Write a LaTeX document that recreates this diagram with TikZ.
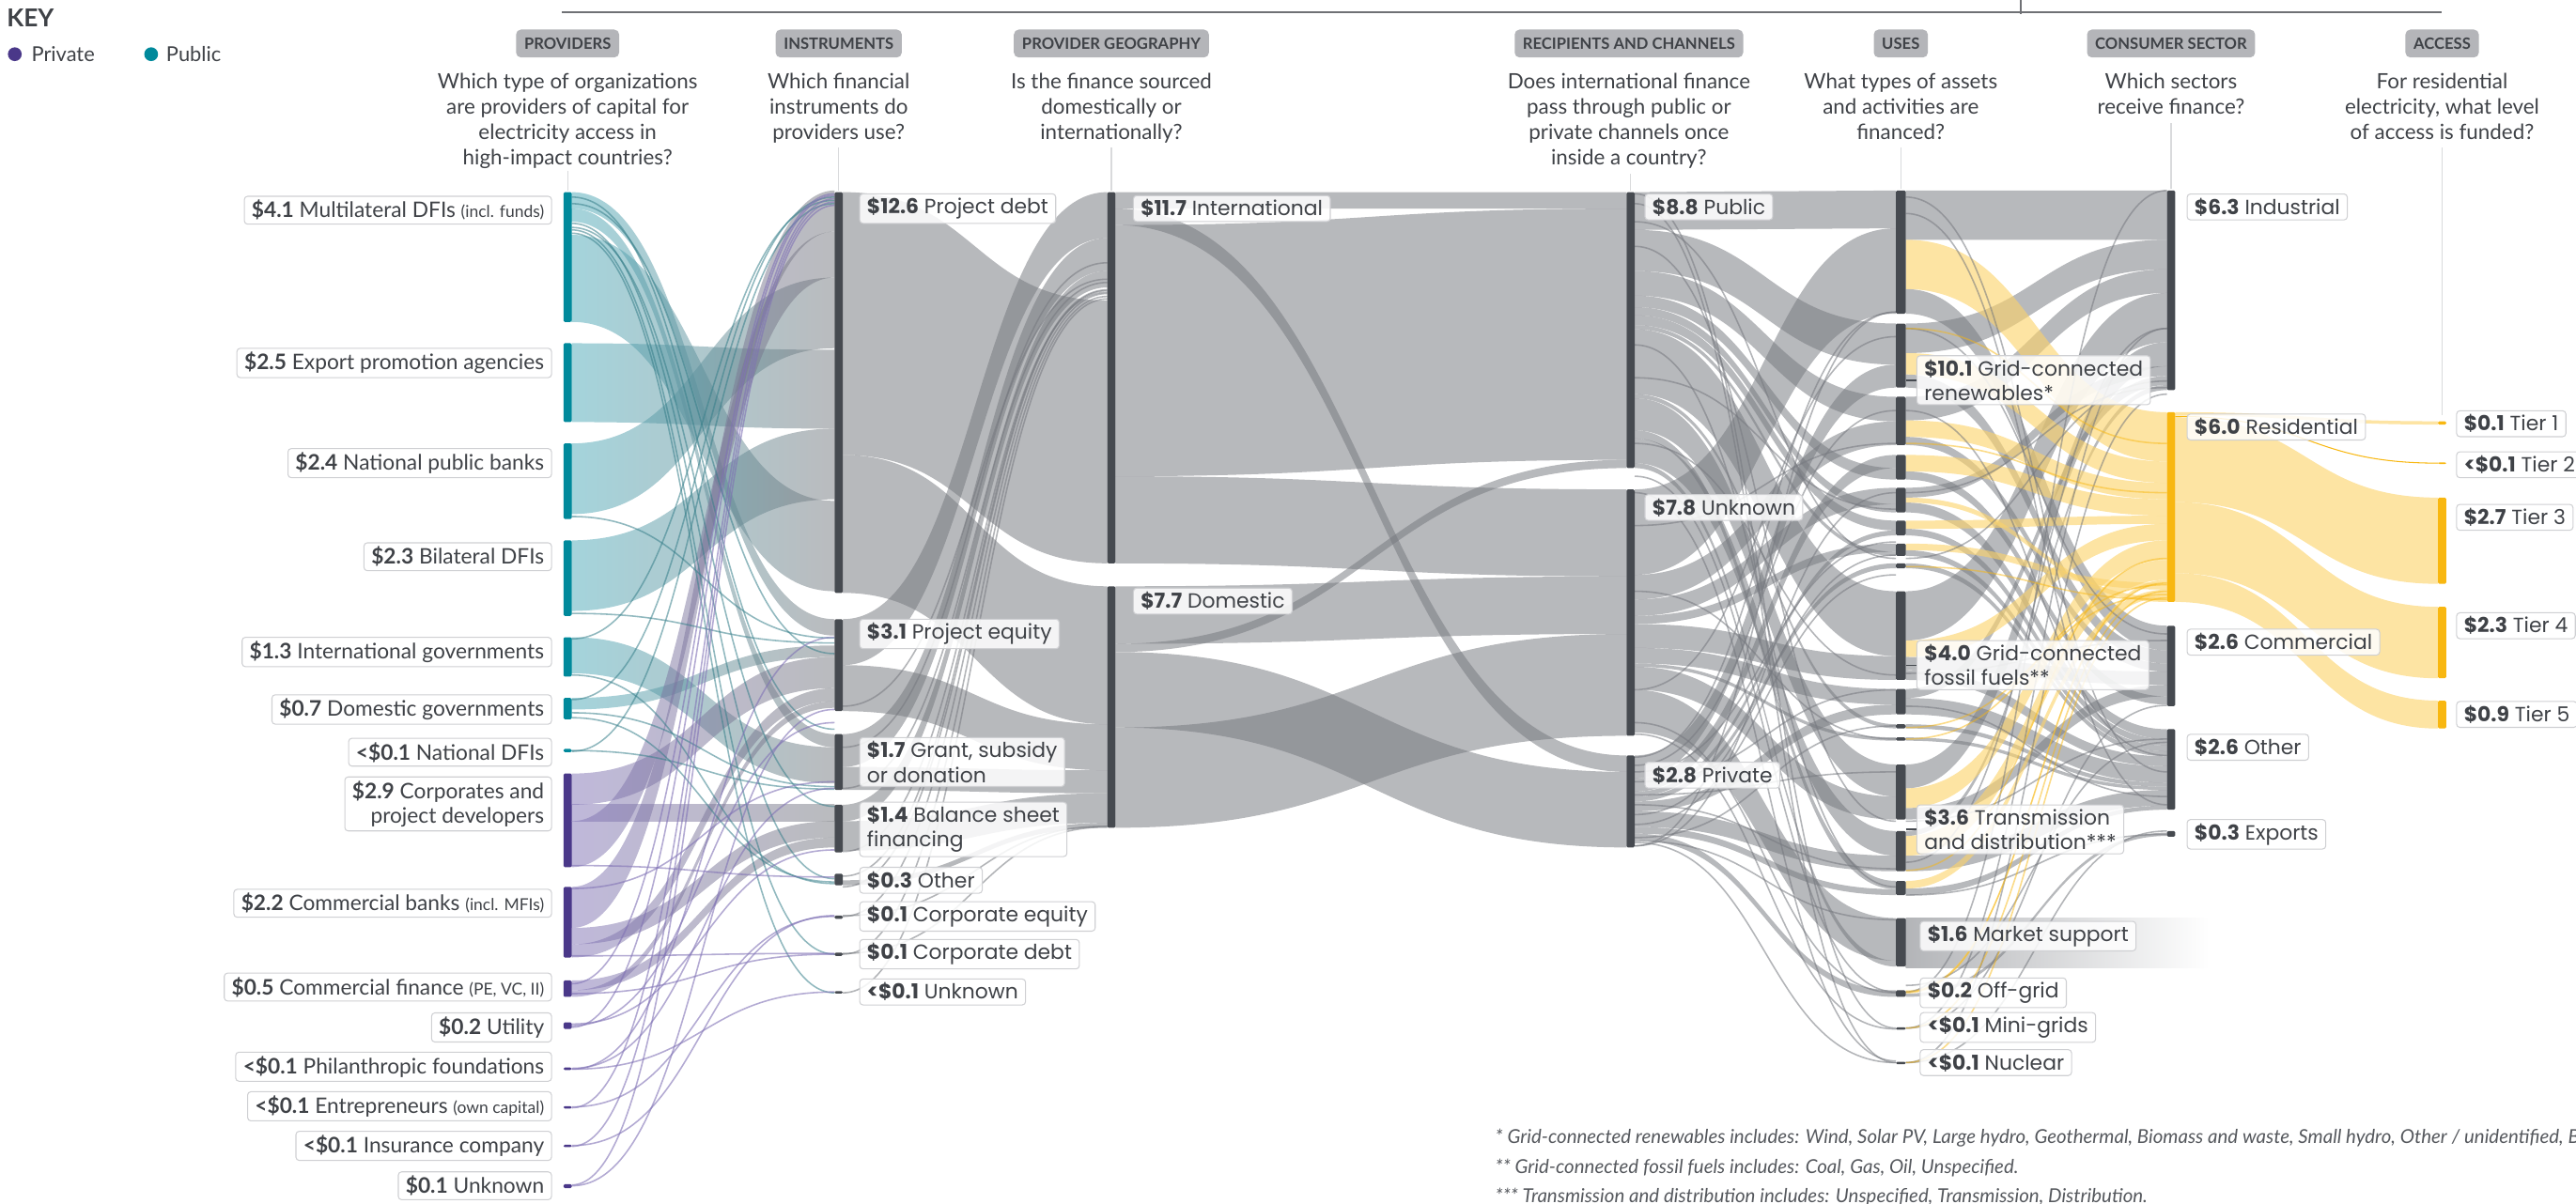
\documentclass[tikz,border=0pt]{standalone}
\usepackage{fontspec}
\setmainfont{Lato}
\newfontfamily\tagfont{Poppins}
\usetikzlibrary{positioning}
\definecolor{InkDark}{HTML}{3F4247}
\definecolor{BarGray}{HTML}{464A50}
\definecolor{PubTeal}{HTML}{00899B}
\definecolor{PubBand}{HTML}{4AA9B8}
\definecolor{PrivPurple}{HTML}{4A3889}
\definecolor{PrivBand}{HTML}{8072B5}
\definecolor{ResYellow}{HTML}{F8B711}
\definecolor{ResBand}{HTML}{FBD36B}
\definecolor{FlowGray}{HTML}{75787E}
\definecolor{PillGray}{HTML}{B4B5B9}
\definecolor{BoxLine}{HTML}{CFD0D3}
\definecolor{GuideGray}{HTML}{D9DADC}
\definecolor{NoteGray}{HTML}{55585D}

% band between two columns: style, x left, x right, top/bottom left, top/bottom right
\newcommand{\band}[7]{%
  \pgfmathsetmacro\xmid{(#2+#3)/2}
  \path[#1] (#2,#4) .. controls (\xmid,#4) and (\xmid,#6) .. (#3,#6)
    -- (#3,#7) .. controls (\xmid,#7) and (\xmid,#5) .. (#2,#5) -- cycle;}
% hairline flow: style, x left, x right, y left, y right
\newcommand{\strand}[5]{%
  \pgfmathsetmacro\xmid{(#2+#3)/2}
  \draw[#1] (#2,#4) .. controls (\xmid,#4) and (\xmid,#5) .. (#3,#5);}
% column bar: colour, x, top, bottom
\newcommand{\colbar}[4]{\fill[#1, rounded corners=0.8pt] (#2,#3) rectangle ({#2+5},#4);}
\newcommand{\val}[1]{\textbf{#1}}
\newcommand{\aside}[1]{{\fontsize{10}{11}\selectfont #1}}

\begin{document}
\begin{tikzpicture}[
    x=1pt, y=-1pt,
    % flows
    pub flow/.style={left color=PubBand, right color=FlowGray, fill opacity=0.5},
    priv flow/.style={left color=PrivBand, right color=FlowGray, fill opacity=0.5},
    gray flow/.style={fill=FlowGray, fill opacity=0.52},
    res flow/.style={fill=ResBand, fill opacity=0.62},
    pub strand/.style={draw=PubBand!75!black, opacity=0.55, line width=0.9pt},
    priv strand/.style={draw=PrivBand, opacity=0.6, line width=0.9pt},
    gray strand/.style={draw=FlowGray, opacity=0.55, line width=0.9pt},
    res strand/.style={draw=ResYellow, opacity=0.5, line width=0.9pt},
    % text
    lbl/.style={draw=BoxLine, line width=0.6pt, rounded corners=2pt, fill=white,
      fill opacity=0.85, text opacity=1, text=InkDark, inner xsep=4.5pt, inner ysep=2.4pt},
    lbl left/.style={lbl, anchor=east, align=right, font=\fontsize{13}{15}\selectfont},
    lbl right/.style={lbl, anchor=west, align=left, font=\tagfont\fontsize{12.5}{15}\selectfont},
    pill/.style={fill=PillGray, rounded corners=3pt, text=InkDark,
      font=\bfseries\fontsize{9.5}{10}\selectfont, inner xsep=5pt, minimum height=17pt},
    question/.style={text=InkDark, font=\fontsize{12.8}{15.4}\selectfont, align=center,
      anchor=north, inner sep=0pt},
    guide/.style={draw=GuideGray, line width=0.7pt},
    note/.style={text=NoteGray, font=\itshape\fontsize{11.7}{12}\selectfont, anchor=west, inner sep=0pt}
]
\useasboundingbox (0,0) rectangle (1568,733);

% ---------- key and bracket ----------
\node[font=\bfseries\fontsize{15}{16}\selectfont, text=InkDark, anchor=west, inner sep=0pt] (key) at (4,11) {KEY};
\fill[PrivPurple] (9,33) circle[radius=4.2pt];
\node[text=InkDark, font=\fontsize{12.5}{14}\selectfont, anchor=west, inner sep=0pt] (kpriv) at (19,33) {Private};
\fill[PubTeal] (92,33) circle[radius=4.2pt];
\node[text=InkDark, font=\fontsize{12.5}{14}\selectfont, anchor=west, inner sep=0pt] (kpub) at (101,33) {Public};
\draw[InkDark!75, line width=1pt] (342,7.6) -- (1486,7.6);
\draw[InkDark!75, line width=0.8pt] (1230,0) -- (1230,8.5);

% ---------- column headers ----------
\node[pill] (h-prov) at (345.5,26.5) {PROVIDERS};
\node[pill] (h-inst) at (510.5,26.5) {INSTRUMENTS};
\node[pill] (h-geo) at (676.5,26.5) {PROVIDER GEOGRAPHY};
\node[pill] (h-rec) at (991.5,26.5) {RECIPIENTS AND CHANNELS};
\node[pill] (h-use) at (1157,26.5) {USES};
\node[pill] (h-con) at (1321.5,26.5) {CONSUMER SECTOR};
\node[pill] (h-acc) at (1486.5,26.5) {ACCESS};

\node[question] (q-prov) at (345.5,44.5) {Which type of organizations\\are providers of capital for\\electricity access in\\high-impact countries?};
\node[question] (q-inst) at (510.5,44.5) {Which financial\\instruments do\\providers use?};
\node[question] (q-geo) at (676.5,44.5) {Is the finance sourced\\domestically or\\internationally?};
\node[question] (q-rec) at (991.5,44.5) {Does international finance\\pass through public or\\private channels once\\inside a country?};
\node[question] (q-use) at (1157,44.5) {What types of assets\\and activities are\\financed?};
\node[question] (q-con) at (1321.5,44.5) {Which sectors\\receive finance?};
\node[question] (q-acc) at (1486.5,44.5) {For residential\\electricity, what level\\of access is funded?};

\draw[guide] (345.5,104) -- (345.5,116);
\draw[guide] (510.5,90) -- (510.5,116);
\draw[guide] (676.5,90) -- (676.5,116);
\draw[guide] (992.5,106) -- (992.5,116);
\draw[guide] (1157,90) -- (1157,115);
\draw[guide] (1321.5,75) -- (1321.5,115);
\draw[guide] (1486.5,90) -- (1486.5,253);

% ---------- providers -> instruments ----------
\foreach \a/\b/\c/\d in {143/196/305/360, 209/257/213/261, 270/313/169/212, 329/372/261/304,
    117/127/377/387, 127/135/447/455, 388/410/455/477, 425/432/393/400}
  \band{pub flow}{348}{508}{\a}{\b}{\c}{\d};
\foreach \a/\b/\c/\d in {500/528/141/169, 540/565/116/141, 471/490/400/419, 490/500/490/500,
    565/575/500/510, 575/583/419/427, 597/603/510/516, 603/607/427/431}
  \band{priv flow}{348}{508}{\a}{\b}{\c}{\d};
\foreach \a/\c in {314.5/388.5, 373.5/391.5, 136/535, 138.5/491, 140/581, 142/604.5, 434/479,
    437/537, 457/480.5, 411/538, 426/120, 389/122, 457.5/124, 120/444, 124/398}
  \strand{pub strand}{348}{508}{\a}{\c};
\foreach \a/\c in {623.5/517.5, 625.5/119, 650.5/480, 651/604, 674/558, 674.5/121, 697.5/557.5,
    698/123, 722/432, 721.5/125, 605/581, 582/580.5, 527/534, 541/476, 599/118, 624.5/440, 651/388}
  \strand{priv strand}{348}{508}{\a}{\c};

% ---------- instruments -> provider geography ----------
\foreach \a/\b/\c/\d in {377/405/117/145, 447/467/145/165, 490/500/165/175, 117/277/183/343,
    277/361/357/441, 405/433/441/469, 467/481/469/483, 500/518/483/501, 536/539/501/504}
  \band{gray flow}{513}{674}{\a}{\b}{\c}{\d};
\foreach \a/\c in {533.5/176.5, 558/178.7, 581/180.5, 604.5/182, 518.5/178, 480/172, 540/177,
    557.5/503, 580.5/503.5, 430/170, 455/160}
  \strand{gray strand}{513}{674}{\a}{\c};

% ---------- provider geography -> recipients ----------
\foreach \a/\b/\c/\d in {117/127/117/127, 127/137/460/470, 137/290/127/280, 290/343/298/351,
    357/392/351/386, 392/397/280/285, 397/443/470/516, 443/504/386/448}
  \band{gray flow}{679}{990}{\a}{\b}{\c}{\d};

% ---------- recipients -> uses ----------
\foreach \a/\b/\c/\d in {117/140/116/139, 298/350/139/191, 140/165/197/222, 460/474/222/236,
    165/180/241.6/256.6, 350/365/256.6/271, 474/482/277/285, 180/187/285/292, 365/375/297/307,
    187/192/307/312, 192/198/317/323, 482/485/323/326, 375/380/331/336, 198/200.5/336/338.5,
    485/488/343/346, 200.5/240/360/399.5, 380/394.5/399.5/414, 394.5/404/419.5/429, 488/494/429/435,
    240/242.5/441/443.5, 404/406/449/451, 242.5/262/465.5/485, 406/420/485/499, 267/282/506/521,
    494/503.5/521/530.5, 262/267/536.4/541.4, 503.5/507.6/541.4/545, 420/446/559/585,
    282/285/585/588.5, 507.6/511.6/603/607}
  \band{gray flow}{995}{1154}{\a}{\b}{\c}{\d};
\foreach \a/\c in {118/626, 124/647, 290/604, 300/646, 440/604.5, 447/626.5, 461/190, 466/250,
    470/330, 476/420, 484/470, 490/529, 496/338, 502/350, 510/442, 515/190, 515/300, 512/560,
    150/500, 210/540, 270/411, 320/270, 420/205, 135/340, 230/310, 360/450, 513/647}
  \strand{gray strand}{995}{1154}{\a}{\c};

% ---------- uses -> consumer sector ----------
\shade[left color=FlowGray!55, right color=white] (1160,559) rectangle (1345,589);
\foreach \a/\b/\c/\d in {116/146/116/146, 197/215/146/164, 241.6/256/164/178.4, 360/390/178.4/208.4,
    465.5/480/208.4/223, 297/303/223/229, 419.5/425/229/234.5, 506/509/234.5/237.5,
    176/191/381/396, 228/236/396/404, 266/271/404/409, 400/408/409/417, 492/499/417/424,
    287/292/424/429, 306/312/444/450, 322/326/450/454, 335/338.5/454/457.5, 343/346/457.5/460.5,
    408/414/460.5/466.5, 425/435/466.5/476.5, 441/443.5/476.5/479, 449/451/479/481,
    521/530.5/481/490.5, 541/545/490.5/493, 605/607/507/509}
  \band{gray flow}{1160}{1319}{\a}{\b}{\c}{\d};
\foreach \a/\b/\c/\d in {146/176/251/281, 215/228/281/294, 256/266/294/304, 277/287/304/314,
    317/322/314/319, 390/400/319/329, 480/492/329/341, 509/521/341/353, 603/605/353/355,
    331/335/355/359, 536.4/541/359/363.6, 303/306/363.6/366.5}
  \band{res flow}{1160}{1319}{\a}{\b}{\c}{\d};
\foreach \a/\c in {604/116, 626/200, 647/240, 600/452, 120/470, 130/490, 200/386, 250/460, 300/236,
    340/232, 410/390, 430/485, 500/450, 525/200, 545/508, 647/506, 626/429.5}
  \strand{gray strand}{1160}{1319}{\a}{\c};
\foreach \a/\c in {604/355, 626/360, 647/364, 345/365, 450/356, 443/362, 530/340, 270/300, 200/270}
  \strand{res strand}{1160}{1319}{\a}{\c};

% ---------- residential -> access tiers ----------
\foreach \a/\b/\c/\d in {251/253/256.5/258.5, 254/305.7/303/355.5, 305.7/349/369.5/413,
    349/366.5/426.6/443.6}
  \band{res flow}{1324}{1484}{\a}{\b}{\c}{\d};
\strand{draw=ResYellow, line width=0.6pt}{1324}{1484}{253.5}{282};

% ---------- column bars ----------
\foreach \t/\b in {117/196, 209/257, 270/316, 329/375, 388/412, 425/438, 456/458}
  \colbar{PubTeal}{343}{\t}{\b};
\foreach \t/\b in {471/528, 540/583, 597/607, 622.5/626.5, 650/651.5, 673.5/675, 697/698.5, 721/723.5}
  \colbar{PrivPurple}{343}{\t}{\b};
\foreach \t/\b in {117/361, 377/433, 447/481, 490/519, 532/539, 557.5/559.5, 580/582, 603.5/605}
  \colbar{BarGray}{508}{\t}{\b};
\foreach \t/\b in {117/343, 357/504}
  \colbar{BarGray}{674}{\t}{\b};
\foreach \t/\b in {117/285, 298/448, 460/516}
  \colbar{BarGray}{990}{\t}{\b};
\foreach \t/\b in {116/191, 197/236, 241.6/271, 277/292, 297/312, 317/326, 331/338.5, 343/346,
    360/414, 419.5/435, 441/443.5, 449/451, 465.5/499, 506/530.5, 536.4/545, 559/588.5,
    603/607, 625.5/627, 646.5/648}
  \fill[BarGray, rounded corners=0.8pt] (1154,\t) rectangle (1160,\b);
\foreach \t/\b in {116/237.5, 381/430, 444/493, 506/509.5}
  \colbar{BarGray}{1319}{\t}{\b};
\colbar{ResYellow}{1319}{251}{366.5}
\foreach \t/\b in {256.5/258.5, 281.5/282.5, 303/355.5, 369.5/413, 426.6/443.6}
  \colbar{ResYellow}{1484}{\t}{\b};

% ---------- labels: providers ----------
\node[lbl left] (mdfi) at (336,128) {\val{\$4.1} Multilateral DFIs \aside{(incl. funds)}};
\node[lbl left] (epa) at (336,221) {\val{\$2.5} Export promotion agencies};
\node[lbl left] (npb) at (336,282) {\val{\$2.4} National public banks};
\node[lbl left] (bdfi) at (336,339) {\val{\$2.3} Bilateral DFIs};
\node[lbl left] (igov) at (336,397) {\val{\$1.3} International governments};
\node[lbl left] (dgov) at (336,432) {\val{\$0.7} Domestic governments};
\node[lbl left] (ndfi) at (336,458) {\val{<\$0.1} National DFIs};
\node[lbl left] (corp) at (336,489.5) {\val{\$2.9} Corporates and\\project developers};
\node[lbl left] (cbank) at (336,550) {\val{\$2.2} Commercial banks \aside{(incl. MFIs)}};
\node[lbl left] (cfin) at (336,601) {\val{\$0.5} Commercial finance \aside{(PE, VC, II)}};
\node[lbl left] (util) at (336,625.6) {\val{\$0.2} Utility};
\node[lbl left] (phil) at (336,649.5) {\val{<\$0.1} Philanthropic foundations};
\node[lbl left] (entr) at (336,673.6) {\val{<\$0.1} Entrepreneurs \aside{(own capital)}};
\node[lbl left] (insu) at (336,697.7) {\val{<\$0.1} Insurance company};
\node[lbl left] (punk) at (336,722) {\val{\$0.1} Unknown};

% ---------- labels: instruments ----------
\node[lbl right] (pdebt) at (523,127) {\val{\$12.6} Project debt};
\node[lbl right] (pequity) at (523,386) {\val{\$3.1} Project equity};
\node[lbl right] (grant) at (523,464) {\val{\$1.7} Grant, subsidy\\or donation};
\node[lbl right] (bsheet) at (523,505) {\val{\$1.4} Balance sheet\\financing};
\node[lbl right] (iother) at (523,536) {\val{\$0.3} Other};
\node[lbl right] (cequity) at (523,558) {\val{\$0.1} Corporate equity};
\node[lbl right] (cdebt) at (523,581) {\val{\$0.1} Corporate debt};
\node[lbl right] (iunk) at (523,604) {\val{<\$0.1} Unknown};

% ---------- labels: geography and recipients ----------
\node[lbl right] (intl) at (689.6,127) {\val{\$11.7} International};
\node[lbl right] (dom) at (689.6,366) {\val{\$7.7} Domestic};
\node[lbl right] (pub) at (1001,126) {\val{\$8.8} Public};
\node[lbl right] (runk) at (1001,309) {\val{\$7.8} Unknown};
\node[lbl right] (priv) at (1001,472) {\val{\$2.8} Private};

% ---------- labels: uses ----------
\node[lbl right] (ren) at (1166.5,231.5) {\val{\$10.1} Grid-connected\\renewables*};
\node[lbl right] (fos) at (1166.5,405) {\val{\$4.0} Grid-connected\\fossil fuels**};
\node[lbl right] (tnd) at (1166.5,505) {\val{\$3.6} Transmission\\and distribution***};
\node[lbl right] (mkt) at (1168.5,570) {\val{\$1.6} Market support};
\node[lbl right] (offg) at (1168.5,604.5) {\val{\$0.2} Off-grid};
\node[lbl right] (minig) at (1168.5,625.6) {\val{<\$0.1} Mini-grids};
\node[lbl right] (nucl) at (1168.5,647) {\val{<\$0.1} Nuclear};
\draw[BarGray, line width=0.8pt] (1160,231.5) -- (ren.west);
\draw[BarGray, line width=0.8pt] (1160,405) -- (fos.west);
\draw[BarGray, line width=0.8pt] (1160,505) -- (tnd.west);

% ---------- labels: consumer sector and access ----------
\node[lbl right] (ind) at (1331,126) {\val{\$6.3} Industrial};
\node[lbl right] (res) at (1331,260) {\val{\$6.0} Residential};
\node[lbl right] (com) at (1331,391) {\val{\$2.6} Commercial};
\node[lbl right] (coth) at (1331,455) {\val{\$2.6} Other};
\node[lbl right] (expo) at (1331,508) {\val{\$0.3} Exports};
\node[lbl right] (tier1) at (1495,258) {\val{\$0.1} Tier 1};
\node[lbl right] (tier2) at (1495,283) {\val{<\$0.1} Tier 2};
\node[lbl right] (tier3) at (1495,315) {\val{\$2.7} Tier 3};
\node[lbl right] (tier4) at (1495,381) {\val{\$2.3} Tier 4};
\node[lbl right] (tier5) at (1495,435) {\val{\$0.9} Tier 5};

% ---------- footnotes ----------
\node[note] (fn1) at (910,693) {* Grid-connected renewables includes: Wind, Solar PV, Large hydro, Geothermal, Biomass and waste, Small hydro, Other / unidentified, Bi};
\node[note] (fn2) at (910,711) {** Grid-connected fossil fuels includes: Coal, Gas, Oil, Unspecified.};
\node[note] (fn3) at (910,729) {*** Transmission and distribution includes: Unspecified, Transmission, Distribution.};
\end{tikzpicture}
\end{document}
